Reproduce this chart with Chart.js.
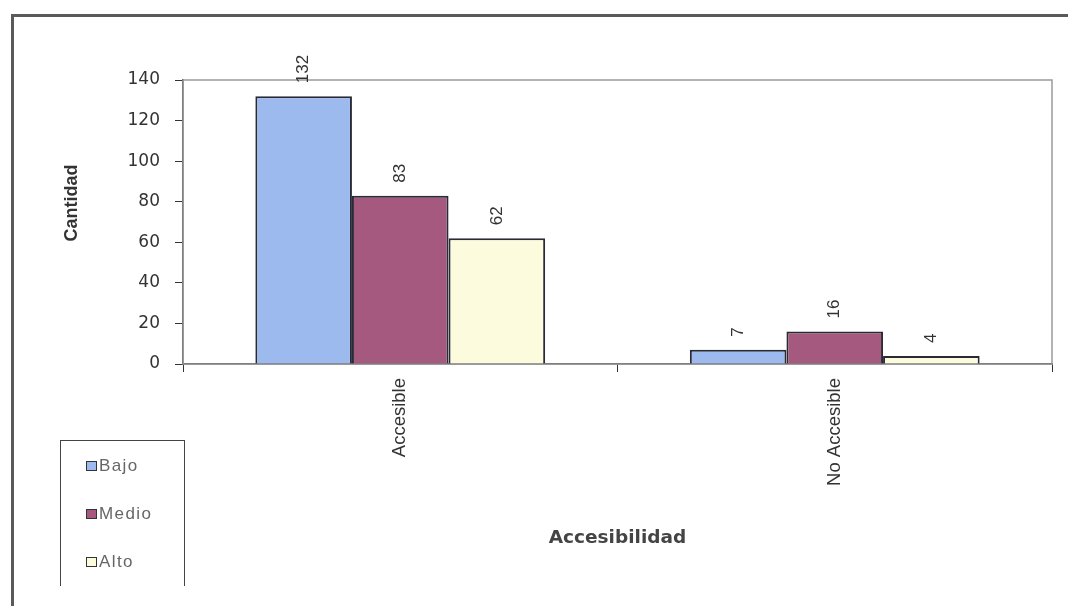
<!DOCTYPE html>
<html lang="es">
<head>
<meta charset="utf-8">
<title>Accesibilidad</title>
<script src="https://cdn.jsdelivr.net/npm/chart.js@4.4.1/dist/chart.umd.min.js"></script>
<style>
  html, body { margin: 0; padding: 0; background: #fff; overflow: hidden; }
  #lienzo { position: relative; width: 1068px; height: 606px; }
  #Grafico { position: absolute; left: 0; top: 0; }
  .marco { position: absolute; left: 11px; top: 14px; width: 1100px; height: 700px;
           border-top: 3px solid #5a5a5a; border-left: 3px solid #5a5a5a; }
  #leyenda { position: absolute; left: 60px; top: 440px; width: 123px; height: 145px;
             border: 1px solid #444; border-bottom: none;
             font: 17px "Liberation Sans", Arial, sans-serif; letter-spacing: 1.4px; color: #666; }
  #leyenda .item { position: absolute; left: 25px; height: 18px; line-height: 18px; }
  #leyenda .cuadro { display: inline-block; width: 9px; height: 8px; border: 1px solid #333;
                     margin-right: 2px; vertical-align: 0px; }
</style>
</head>
<body>
<div id="lienzo">
  <div class="marco"></div>
  <canvas id="Grafico" width="1068" height="606"></canvas>
  <div id="leyenda"></div>
</div>
<script>
const categorias = ['Accesible', 'No Accesible'];
const niveles    = ['Bajo', 'Medio', 'Alto'];
const bajo       = [132, 7];
const medio      = [83, 16];
const alto       = [62, 4];
const colores    = ['#9dbaef', '#a6597f', '#fcfbde'];
const tituloY    = 'Cantidad';
const tituloX    = 'Accesibilidad';

// números girados encima de cada barra
const etiquetasValor = {
    id: 'etiquetasValor',
    afterDatasetsDraw(chart) {
        const ctx = chart.ctx;
        ctx.save();
        ctx.font = '17px "Liberation Sans", Arial, sans-serif';
        ctx.fillStyle = '#333';
        ctx.textAlign = 'left';
        ctx.textBaseline = 'middle';
        chart.data.datasets.forEach((ds, i) => {
            chart.getDatasetMeta(i).data.forEach((barra, j) => {
                ctx.save();
                ctx.translate(barra.x, barra.y - 13);
                ctx.rotate(-Math.PI / 2);
                ctx.fillText(ds.data[j], 0, 0);
                ctx.restore();
            });
        });
        ctx.restore();
    }
};

// borde gris del área de trazado + título vertical (va algo por encima del centro)
const bordeArea = {
    id: 'bordeArea',
    beforeDatasetsDraw(chart) {
        const a = chart.chartArea;
        const ctx = chart.ctx;
        ctx.save();
        ctx.strokeStyle = '#9a9a9a';
        ctx.lineWidth = 1.5;
        ctx.strokeRect(a.left, a.top, a.right - a.left, a.bottom - a.top);
        ctx.restore();
    },
    afterDraw(chart) {
        const ctx = chart.ctx;
        ctx.save();
        ctx.translate(72, 203);
        ctx.rotate(-Math.PI / 2);
        ctx.font = 'bold 18px "Liberation Sans", Arial, sans-serif';
        ctx.fillStyle = '#333';
        ctx.textAlign = 'center';
        ctx.textBaseline = 'middle';
        ctx.fillText(tituloY, 0, 0);
        ctx.restore();
    }
};

const series = [bajo, medio, alto];

const grafico = new Chart(document.getElementById('Grafico'), {
    type: 'bar',
    data: {
        labels: categorias,
        datasets: niveles.map((nivel, i) => ({
            label: nivel,
            data: series[i],
            backgroundColor: colores[i],
            borderColor: '#2a2a36',
            borderWidth: 2,
            categoryPercentage: 0.667,
            barPercentage: 1
        }))
    },
    options: {
        responsive: false,
        animation: false,
        devicePixelRatio: 1,
        layout: { padding: { left: 0, top: 80, right: 16, bottom: 0 } },
        plugins: {
            legend: { display: false },
            tooltip: { enabled: false }
        },
        scales: {
            x: {
                afterFit: s => { s.height = 242; },
                grid: { drawOnChartArea: false, tickLength: 8, color: '#333', offset: true },
                border: { color: '#333', width: 1.5 },
                ticks: {
                    minRotation: 90, maxRotation: 90, padding: 6,
                    color: '#333', font: { family: '"Liberation Sans", Arial', size: 18.5 }
                },
                title: {
                    display: true, text: tituloX, color: '#444',
                    font: { family: '"DejaVu Sans"', size: 18.5, weight: 'bold' },
                    padding: { top: 0, bottom: 57 }
                }
            },
            y: {
                min: 0, max: 140,
                afterFit: s => { s.width = 183; },
                grid: { drawOnChartArea: false, tickLength: 8, color: '#333' },
                border: { color: '#333', width: 1.5 },
                ticks: {
                    stepSize: 20, padding: 15, color: '#333',
                    font: { family: '"DejaVu Sans"', size: 17 }
                }
            }
        }
    },
    plugins: [bordeArea, etiquetasValor]
});

// leyenda en recuadro
const leyenda = document.getElementById('leyenda');
niveles.forEach((nivel, i) => {
    const item = document.createElement('div');
    item.className = 'item';
    item.style.top = (16 + i * 48) + 'px';
    item.innerHTML = '<span class="cuadro" style="background:' + colores[i] + '"></span>' + nivel;
    leyenda.appendChild(item);
});
</script>
</body>
</html>
